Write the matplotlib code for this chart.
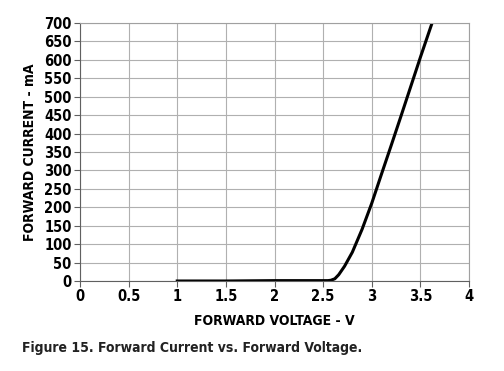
import numpy as np
import matplotlib.pyplot as plt

# Curve
voltage = [1.0, 1.5, 2.0, 2.3, 2.55, 2.58, 2.62, 2.66, 2.72, 2.8, 2.9, 3.0,
           3.1, 3.2, 3.3, 3.4, 3.5, 3.62]
current = [0, 0, 1, 1, 1, 2, 6, 17, 40, 78, 140, 211,
           290, 368, 447, 527, 607, 700]

x_ticks = [0, 0.5, 1, 1.5, 2, 2.5, 3, 3.5, 4]
x_labels = ["0", "0.5", "1", "1.5", "2", "2.5", "3", "3.5", "4"]
y_ticks = list(range(0, 701, 50))

plt.rcParams['font.family'] = ['DejaVu Sans']
plt.rcParams['font.weight'] = 'bold'
plt.rcParams['font.stretch'] = 'condensed'

fig = plt.figure(figsize=(5.04, 3.71), dpi=100)
ax = fig.add_axes([0.1587, 0.2426, 0.7719, 0.6954])

ax.plot(voltage, current, color="black", lw=2.2, solid_joinstyle="round")
ax.set_xlim(0, 4)
ax.set_ylim(0, 700)
ax.set_xticks(x_ticks)
ax.set_xticklabels(x_labels)
ax.set_yticks(y_ticks)
ax.grid(True, color="#b0b0b0", lw=0.8)
ax.set_axisbelow(True)
for s in ax.spines.values():
    s.set_color("#a0a0a0")
    s.set_linewidth(0.8)
ax.spines['left'].set_color("#606060")
ax.spines['bottom'].set_color("#606060")
ax.tick_params(length=4, width=0.8, color="#606060", labelsize=10.5, pad=2)

ax.set_xlabel("FORWARD VOLTAGE - V", fontsize=10, fontweight="bold", labelpad=7)
ax.set_ylabel("FORWARD CURRENT - mA", fontsize=10, fontweight="bold", labelpad=5)

fig.text(0.044, 0.05, "Figure 15. Forward Current vs. Forward Voltage.",
         fontsize=10, fontweight="bold", color="#222222")

fig.savefig("out.png", dpi=100)
